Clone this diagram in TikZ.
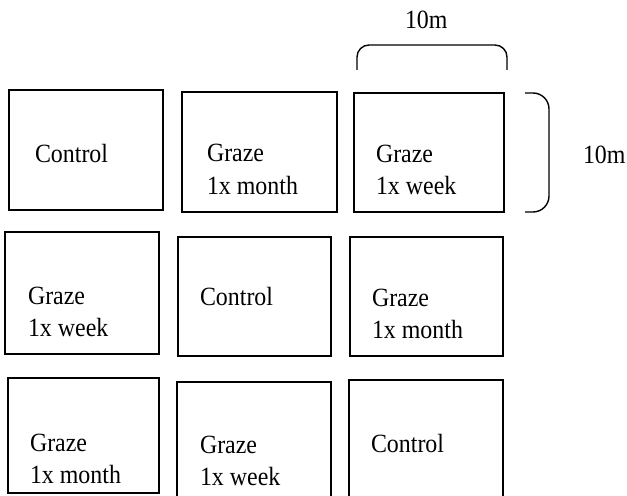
\documentclass[tikz,border=0pt]{standalone}
\usepackage{fontspec}
\setmainfont{Liberation Serif}
\newcommand\talltxt[1]{\scalebox{1}[1.1]{#1}}
\begin{document}
\begin{tikzpicture}[x=1bp,y=-1bp,
  plotbox/.style={draw, line width=1.3bp, inner sep=0pt, outer sep=0pt, rectangle},
  lab/.style={anchor=base west, inner sep=0pt, outer sep=0pt, font=\fontsize{24}{32}\selectfont},
  brack/.style={draw, line width=1.4bp, rounded corners=#1}]
\clip (0,0) rectangle (627,496);
\fill[white] (0,0) rectangle (627,496);
% row 1
\node[plotbox, minimum width=154bp, minimum height=120bp] (b11) at (86,150) {};
\node[plotbox, minimum width=155bp, minimum height=120bp] (b12) at (259.5,152) {};
\node[plotbox, minimum width=150bp, minimum height=119bp] (b13) at (429,152.5) {};
% row 2
\node[plotbox, minimum width=154bp, minimum height=122bp] (b21) at (82,293) {};
\node[plotbox, minimum width=153bp, minimum height=119bp] (b22) at (254.5,296.5) {};
\node[plotbox, minimum width=153bp, minimum height=119bp] (b23) at (426.5,296.5) {};
% row 3
\node[plotbox, minimum width=151bp, minimum height=115bp] (b31) at (83.5,435.5) {};
\node[plotbox, minimum width=154bp, minimum height=130bp] (b32) at (254,447) {};
\node[plotbox, minimum width=154bp, minimum height=132bp] (b33) at (426,446) {};
% labels row 1
\node[lab] (t11) at (35,163) {\talltxt{Control}};
\node[lab] (t12a) at (207,162) {\talltxt{Graze}};
\node[lab] (t12b) at (207,195) {\talltxt{1x month}};
\node[lab] (t13a) at (376,163) {\talltxt{Graze}};
\node[lab] (t13b) at (376,195) {\talltxt{1x week}};
% labels row 2
\node[lab] (t21a) at (28,304) {\talltxt{Graze}};
\node[lab] (t21b) at (28,336) {\talltxt{1x week}};
\node[lab] (t22) at (200,305) {\talltxt{Control}};
\node[lab] (t23a) at (372,306) {\talltxt{Graze}};
\node[lab] (t23b) at (372,338) {\talltxt{1x month}};
% labels row 3
\node[lab] (t31a) at (30,451) {\talltxt{Graze}};
\node[lab] (t31b) at (30,483) {\talltxt{1x month}};
\node[lab] (t32a) at (200,453) {\talltxt{Graze}};
\node[lab] (t32b) at (200,485) {\talltxt{1x week}};
\node[lab] (t33) at (371,452) {\talltxt{Control}};
% dimension brackets
\coordinate (ta) at (357,70);
\coordinate (tb) at (507,70);
\draw[brack=12bp] (ta) -- (357,45) -- (507,45) -- (tb);
\node[lab] (dimtop) at (405,29) {\talltxt{10m}};
\coordinate (ra) at (525,93);
\coordinate (rb) at (525,212);
\draw[brack=16bp] (ra) -- (549,93) -- (549,212) -- (rb);
\node[lab] (dimright) at (583,164) {\talltxt{10m}};
\end{tikzpicture}
\end{document}
